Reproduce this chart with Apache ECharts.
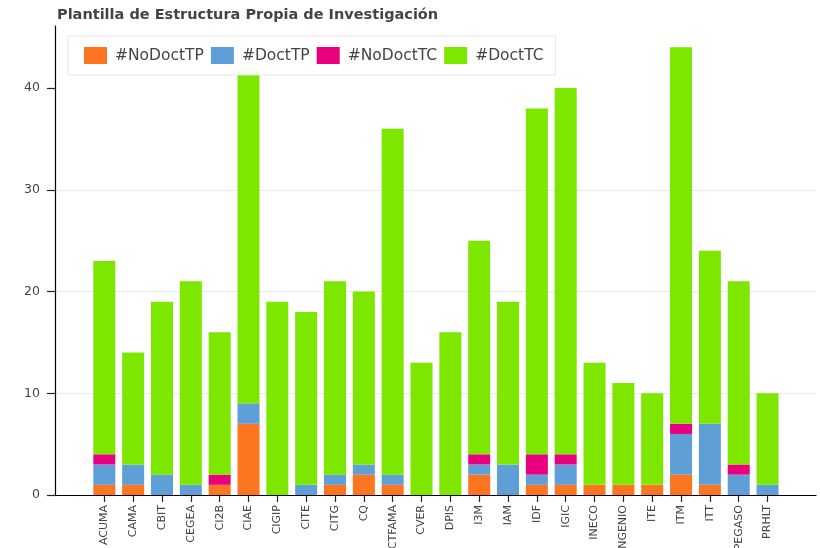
<!DOCTYPE html>
<html>
<head>
<meta charset="utf-8">
<title>Plantilla de Estructura Propia de Investigación</title>
<script src="https://cdn.jsdelivr.net/npm/echarts@6/dist/echarts.min.js"></script>
<style>
  html, body { margin: 0; padding: 0; background: #fff; }
  #chart { width: 820px; height: 548px; }
</style>
</head>
<body>
<div id="chart"></div>
<script>
// Research structures and their staff, split by contract type and doctorate
const categories = ['ACUMA', 'CAMA', 'CBIT', 'CEGEA', 'CI2B', 'CIAE', 'CIGIP', 'CITE', 'CITG', 'CQ',
  'CTFAMA', 'CVER', 'DPIS', 'I3M', 'IAM', 'IDF', 'IGIC', 'INECO', 'INGENIO', 'ITE', 'ITM', 'ITT',
  'PEGASO', 'PRHLT'];
const noDoctTP = [1, 1, 0, 0, 1, 7, 0, 0, 1, 2, 1, 0, 0, 2, 0, 1, 1, 1, 1, 1, 2, 1, 0, 0];
const doctTP   = [2, 2, 2, 1, 0, 2, 0, 1, 1, 1, 1, 0, 0, 1, 3, 1, 2, 0, 0, 0, 4, 6, 2, 1];
const noDoctTC = [1, 0, 0, 0, 1, 0, 0, 0, 0, 0, 0, 0, 0, 1, 0, 2, 1, 0, 0, 0, 1, 0, 1, 0];
const doctTC   = [19, 11, 17, 20, 14, 33, 19, 17, 19, 17, 34, 13, 16, 21, 16, 34, 36, 12, 10, 9, 37, 17, 18, 9];
const yTicks = [0, 10, 20, 30, 40];

const seriesDefs = [
  { name: '#NoDoctTP', values: noDoctTP, color: '#fd7520' },
  { name: '#DoctTP',   values: doctTP,   color: '#5f9fd8' },
  { name: '#NoDoctTC', values: noDoctTC, color: '#e8007e' },
  { name: '#DoctTC',   values: doctTC,   color: '#7de700' }
];

const FONT = 'DejaVu Sans';
const Y_MAX = 46.1;

// Outer frame: axis lines, y ticks and gridlines across the full plot width.
// Inner grid: the category bands, inset so the bars sit away from both axis ends.
const FRAME = { left: 55, right: 4, top: 26, bottom: 53 };
const BAND = (820 - FRAME.left - FRAME.right) / (categories.length + 2.39);
const INSET_LEFT = 1.21 * BAND;
const INSET_RIGHT = 1.18 * BAND;

const chart = echarts.init(document.getElementById('chart'), null, { renderer: 'canvas' });

chart.setOption({
  animation: false,
  backgroundColor: '#ffffff',
  title: {
    text: 'Plantilla de Estructura Propia de Investigación',
    left: 52,
    top: 3,
    textStyle: { fontFamily: FONT, fontSize: 14.5, fontWeight: 'bold', color: '#444444' }
  },
  legend: {
    left: 68,
    top: 36,
    padding: [11, 12, 11, 16],
    itemWidth: 23,
    itemHeight: 17,
    itemGap: 7,
    icon: 'rect',
    borderColor: '#e6e6e6',
    borderWidth: 1,
    backgroundColor: 'rgba(255,255,255,0.95)',
    textStyle: { fontFamily: FONT, fontSize: 15.5, color: '#444444', padding: [0, 0, 0, 3] },
    data: seriesDefs.map(s => s.name)
  },
  grid: [
    { left: FRAME.left, right: FRAME.right, top: FRAME.top, bottom: FRAME.bottom, outerBoundsMode: 'none' },
    { left: FRAME.left + INSET_LEFT, right: FRAME.right + INSET_RIGHT, top: FRAME.top, bottom: FRAME.bottom, outerBoundsMode: 'none' }
  ],
  xAxis: [
    {
      gridIndex: 0,
      type: 'value',
      min: 0,
      max: 1,
      axisLine: { show: true, onZero: false, lineStyle: { color: '#000000', width: 1.2 } },
      axisTick: { show: false },
      axisLabel: { show: false },
      splitLine: { show: false }
    },
    {
      gridIndex: 1,
      type: 'category',
      data: categories,
      axisLine: { show: false },
      axisTick: { show: true, alignWithLabel: true, interval: 0, length: 7, lineStyle: { color: '#222222', width: 1.2 } },
      axisLabel: {
        interval: 0,
        rotate: 90,
        margin: 10,
        fontFamily: FONT,
        fontSize: 11,
        color: '#444444'
      },
      splitLine: { show: false }
    }
  ],
  yAxis: [
    {
      gridIndex: 0,
      type: 'value',
      min: 0,
      max: Y_MAX,
      axisLine: { show: true, onZero: false, lineStyle: { color: '#000000', width: 1.2 } },
      axisTick: { show: true, length: 8, customValues: yTicks, lineStyle: { color: '#222222', width: 1.2 } },
      axisLabel: {
        customValues: yTicks,
        margin: 15,
        fontFamily: FONT,
        fontSize: 12.5,
        color: '#444444'
      },
      splitLine: { show: true, showMinLine: false, showMaxLine: false, lineStyle: { color: '#e9e9e9', width: 1 } }
    },
    {
      gridIndex: 1,
      type: 'value',
      min: 0,
      max: Y_MAX,
      show: false
    }
  ],
  series: seriesDefs.map(s => ({
    name: s.name,
    type: 'bar',
    stack: 'total',
    xAxisIndex: 1,
    yAxisIndex: 1,
    barWidth: 22,
    itemStyle: { color: s.color },
    emphasis: { disabled: true },
    data: s.values
  }))
});
</script>
</body>
</html>
